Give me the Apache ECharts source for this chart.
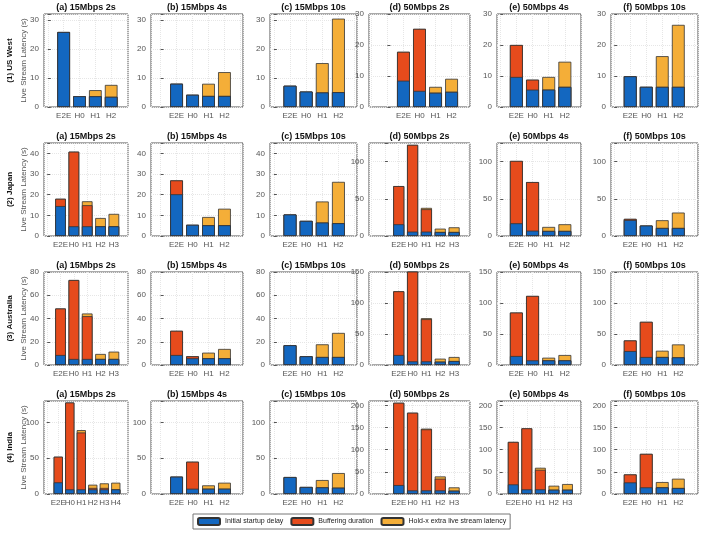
<!DOCTYPE html>
<html>
<head>
<meta charset="utf-8">
<script src="https://cdn.jsdelivr.net/npm/echarts@6/dist/echarts.min.js"></script>
<style>
html,body{margin:0;padding:0;background:#fff}
#main{width:704px;height:535px}
</style>
</head>
<body>
<div id="main"></div>
<script>
// ---- data ----
var regions = ['(1) US West', '(2) Japan', '(3) Australia', '(4) India'];
var titles = ['(a) 15Mbps 2s', '(b) 15Mbps 4s', '(c) 15Mbps 10s', '(d) 50Mbps 2s', '(e) 50Mbps 4s', '(f) 50Mbps 10s'];
var seriesNames = ['Initial startup delay', 'Buffering duration', 'Hold-x extra live stream latency'];

var cats4 = ['E2E', 'H0', 'H1', 'H2'];
var cats5 = ['E2E', 'H0', 'H1', 'H2', 'H3'];
var cats6 = ['E2E', 'H0', 'H1', 'H2', 'H3', 'H4'];

var usWestCats = [cats4, cats4, cats4, cats4, cats4, cats4];
var japanCats = [cats5, cats4, cats4, cats5, cats4, cats4];
var australiaCats = [cats5, cats4, cats4, cats5, cats4, cats4];
var indiaCats = [cats6, cats4, cats4, cats5, cats5, cats4];

// y axis [max, step] per panel
var usWestY = [[32, 10], [32, 10], [32, 10], [30, 10], [30, 10], [30, 10]];
var japanY = [[45, 10], [45, 10], [45, 10], [125, 50], [125, 50], [125, 50]];
var australiaY = [[80, 20], [80, 20], [80, 20], [150, 50], [150, 50], [150, 50]];
var indiaY = [[130, 50], [130, 50], [130, 50], [210, 50], [210, 50], [210, 50]];

// segment values (s), one list per panel a..f
var usWestStartup = [[25.8, 3.7, 3.7, 3.5], [8, 4.2, 3.8, 3.8], [7.3, 5.3, 5.0, 5.1], [8.5, 5.2, 4.6, 4.9], [9.7, 5.6, 5.6, 6.5], [9.9, 6.5, 6.5, 6.5]];
var usWestBuffering = [[0, 0, 0, 0], [0, 0, 0, 0], [0, 0, 0, 0], [9.3, 20, 0, 0], [10.3, 3.2, 0, 0], [0, 0, 0, 0]];
var usWestHoldx = [[0, 0, 2.1, 4.1], [0, 0, 4.2, 8.2], [0, 0, 10.1, 25.3], [0, 0, 1.9, 4.2], [0, 0, 4.1, 8.1], [0, 0, 9.9, 20]];

var japanStartup = [[14.5, 4.7, 4.7, 4.7, 4.7], [20.2, 5.4, 5.2, 5.2], [10.4, 7.3, 6.5, 6.2], [15.8, 5.9, 5.9, 5.4, 5.4], [17.1, 7.2, 6.8, 6.8], [21.5, 14, 10.8, 10.8]];
var japanBuffering = [[3.5, 36.1, 10.2, 0, 0], [6.7, 0, 0, 0], [0, 0, 0, 0], [51.3, 116.6, 30.1, 0, 0], [83.8, 65.3, 0, 0], [1.5, 0, 0, 0]];
var japanHoldx = [[0, 0, 1.9, 4, 6], [0, 0, 4, 8], [0, 0, 10.2, 20], [0, 0, 1.8, 4.5, 6.3], [0, 0, 5.4, 9], [0, 0, 10.4, 20.7]];

var australiaStartup = [[8.6, 5.2, 5.2, 5.2, 5.2], [8.6, 5.8, 5.8, 5.8], [17, 7.5, 6.9, 6.9], [16.1, 5.9, 5.9, 5.4, 6.4], [14.5, 7.5, 7.5, 7.5], [22.5, 12.9, 12.9, 12.3]];
var australiaBuffering = [[40, 67.9, 36.8, 0, 0], [20.8, 1.7, 0, 0], [0, 0, 0, 0], [102.8, 146, 68, 0, 0], [70.1, 103.9, 0, 0], [17.1, 56.7, 0, 0]];
var australiaHoldx = [[0, 0, 2.3, 4.3, 6.3], [0, 0, 4.8, 8], [0, 0, 10.9, 20.7], [0, 0, 1.6, 4.8, 6.5], [0, 0, 4.3, 8.6], [0, 0, 10.1, 20.9]];

var indiaStartup = [[16.3, 6.5, 6.5, 6.5, 6.5, 6.5], [24.2, 7.4, 7.4, 7.4], [23.7, 9.8, 9.3, 8.8], [20.2, 8.2, 8.2, 8.2, 7.5], [21.7, 10.5, 10.5, 9.7, 9.7], [26.2, 15, 15, 13.5]];
var indiaBuffering = [[35.8, 121.4, 79.5, 2, 2, 0], [0, 37.7, 0, 0], [0, 0, 0, 0], [185.8, 175.3, 137.8, 26.3, 0], [95.9, 137.8, 44.2, 0, 0], [18, 75.6, 0, 0]];
var indiaHoldx = [[0, 0, 3.3, 4.5, 6.4, 9.3], [0, 0, 4.7, 8.4], [0, 0, 10.2, 20.5], [0, 0, 1.6, 5.2, 7.5], [0, 0, 4.5, 9, 12.8], [0, 0, 12, 21]];

// ---- layout ----
var colBox = [[44, 128], [151, 243], [270, 357], [369, 470], [497, 581], [611, 698]];
// empty room (in category units) left of the first bar / right of the last bar
var colPad = [[1.24, 1.06], [1.6, 1.16], [1.24, 1.15], [2.15, 1.15], [1.2, 1.0], [1.2, 1.23]];
var rowBox = [[14, 107], [143, 236], [272, 365], [401, 494]];
var colors = ['#1367c0', '#e64b1c', '#f4ae38'];
var font = '"Liberation Sans", Arial, sans-serif';

var rows = [
    {cats: usWestCats, y: usWestY, s: [usWestStartup, usWestBuffering, usWestHoldx]},
    {cats: japanCats, y: japanY, s: [japanStartup, japanBuffering, japanHoldx]},
    {cats: australiaCats, y: australiaY, s: [australiaStartup, australiaBuffering, australiaHoldx]},
    {cats: indiaCats, y: indiaY, s: [indiaStartup, indiaBuffering, indiaHoldx]}
];

var grids = [], xAxes = [], yAxes = [], series = [], graphics = [];

function catLabel(cats){
    return function(v){
        var i = Math.round(v);
        if (Math.abs(v - i) > 1e-6 || i < 1 || i > cats.length) return '';
        return cats[i - 1];
    };
}
function stepLabel(step){
    return function(v){ return v % step === 0 ? v : ''; };
}

rows.forEach(function(row, r){
    var rb = rowBox[r];
    for (var c = 0; c < 6; c++) {
        var k = r * 6 + c;
        var cb = colBox[c];
        var cats = row.cats[c];
        var ym = row.y[c];
        grids.push({
            left: cb[0], top: rb[0], width: cb[1] - cb[0], height: rb[1] - rb[0],
            show: true, borderColor: '#555', borderWidth: 1, backgroundColor: '#fff'
        });
        xAxes.push({
            gridIndex: k, type: 'value',
            min: 1 - colPad[c][0], max: cats.length + colPad[c][1],
            minInterval: 1, maxInterval: 1,
            axisLine: {show: false}, axisTick: {show: false},
            axisLabel: {color: '#555', fontSize: 8, margin: 5, fontFamily: font,
                formatter: catLabel(cats), showMinLabel: false, showMaxLabel: false},
            splitLine: {show: true, lineStyle: {color: '#e6e6e6', type: 'dotted', width: 1}}
        });
        yAxes.push({
            gridIndex: k, type: 'value', min: 0, max: ym[0], interval: ym[1],
            axisLine: {show: false},
            axisTick: {show: true, inside: true, length: 3, lineStyle: {color: '#555'}},
            axisLabel: {color: '#555', fontSize: 8, margin: 5, fontFamily: font, formatter: stepLabel(ym[1])},
            splitLine: {show: true, lineStyle: {color: '#e6e6e6', type: 'dotted', width: 1}}
        });
        // running totals of the three segments; drawn back to front so each segment shows
        var start = row.s[0][c], buf = row.s[1][c], hold = row.s[2][c];
        var layers = [
            {si: 2, vals: start.map(function(v, i){ return v + buf[i] + hold[i]; })},
            {si: 1, vals: start.map(function(v, i){ return v + buf[i]; })},
            {si: 0, vals: start.slice()}
        ];
        layers.forEach(function(L){
            series.push({
                type: 'bar', name: seriesNames[L.si], xAxisIndex: k, yAxisIndex: k,
                barWidth: '80%', barGap: '-100%',
                data: L.vals.map(function(v, i){ return [i + 1, v]; }),
                itemStyle: {color: colors[L.si], borderColor: '#333', borderWidth: 0.8},
                silent: true
            });
        });
        graphics.push({
            type: 'text', x: (cb[0] + cb[1]) / 2, y: rb[0] - 6,
            style: {text: titles[c], align: 'center', verticalAlign: 'middle',
                font: 'bold 9px ' + font, fill: '#111'}
        });
    }
    var cy = (rb[0] + rb[1]) / 2;
    graphics.push({
        type: 'text', x: 24, y: cy, rotation: Math.PI / 2,
        style: {text: 'Live Stream Latency (s)', align: 'center', verticalAlign: 'middle',
            font: '8px ' + font, fill: '#555'}
    });
    graphics.push({
        type: 'text', x: 10, y: cy, rotation: Math.PI / 2,
        style: {text: regions[r], align: 'center', verticalAlign: 'middle',
            font: 'bold 8px ' + font, fill: '#111'}
    });
});

var chart = echarts.init(document.getElementById('main'));
chart.setOption({
    animation: false,
    grid: grids,
    xAxis: xAxes,
    yAxis: yAxes,
    series: series,
    graphic: graphics,
    legend: {
        data: seriesNames, left: 193, top: 514, selectedMode: false,
        orient: 'horizontal', padding: [3, 4], itemGap: 7,
        itemWidth: 22, itemHeight: 7,
        borderColor: '#777', borderWidth: 1, backgroundColor: '#fff',
        textStyle: {fontSize: 7, color: '#222', fontFamily: font}
    }
});
</script>
</body>
</html>
